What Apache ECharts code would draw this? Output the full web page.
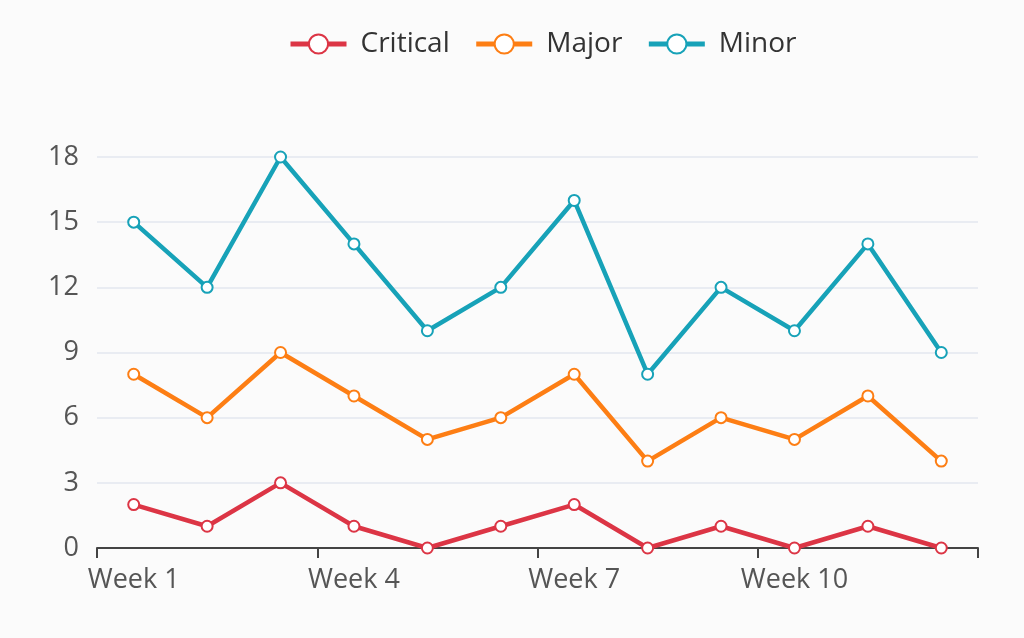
<!DOCTYPE html>
<html><head><meta charset="utf-8">
<script src="https://cdn.jsdelivr.net/npm/echarts@6/dist/echarts.min.js"></script>
<style>html,body{margin:0;padding:0;background:#fbfbfb}#c{width:1024px;height:638px}</style>
</head><body><div id="c"></div>
<script>
const categories = ['Week 1','Week 2','Week 3','Week 4','Week 5','Week 6','Week 7','Week 8','Week 9','Week 10','Week 11','Week 12'];
const critical = [2,1,3,1,0,1,2,0,1,0,1,0];
const major = [8,6,9,7,5,6,8,4,6,5,7,4];
const minor = [15,12,18,14,10,12,16,8,12,10,14,9];
const seriesNames = ['Critical','Major','Minor'];
const colors = ['#dc3545','#fd7e14','#17a2b8'];
const font = '"Open Sans", "Noto Sans", sans-serif';
const chart = echarts.init(document.getElementById('c'));
const mk = (name, data, color) => ({
  name, type:'line', data, symbol:'emptyCircle', symbolSize:11,
  lineStyle:{width:4.5,color}, itemStyle:{color, borderWidth:3, borderColor:color}
});
chart.setOption({
  backgroundColor:'#fbfbfb',
  color: colors,
  legend:{top:25,left:283,itemWidth:56,itemHeight:24,itemGap:24,
    itemStyle:{borderWidth:4},lineStyle:{width:5},
    textStyle:{fontSize:28,color:'#333',fontFamily:font,padding:[0,0,0,9]},
    data:seriesNames},
  grid:{left:97,right:46,top:157,bottom:90,containLabel:false},
  xAxis:{type:'category',data:categories,boundaryGap:true,
    axisLine:{lineStyle:{color:'#444',width:2}},
    axisTick:{show:true,interval:2,length:10,lineStyle:{color:'#444',width:2}},
    axisLabel:{interval:2,fontSize:27,color:'#555',fontFamily:font,margin:19}},
  yAxis:{type:'value',min:0,max:18,interval:3,
    axisLine:{show:false},axisTick:{show:false},
    axisLabel:{fontSize:27,color:'#555',fontFamily:font,margin:18},
    splitLine:{lineStyle:{color:'#e3e7ef',width:1.5}}},
  series:[mk('Critical',critical,colors[0]),mk('Major',major,colors[1]),mk('Minor',minor,colors[2])]
});
</script></body></html>
